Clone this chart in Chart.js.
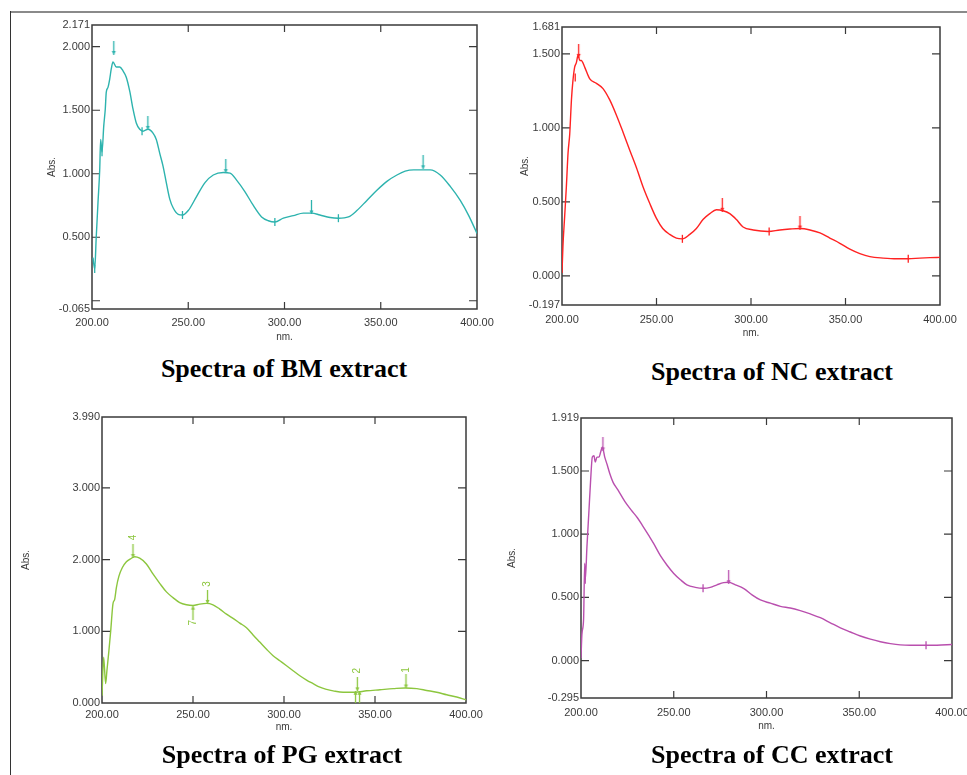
<!DOCTYPE html>
<html>
<head>
<meta charset="utf-8">
<script src="https://cdn.jsdelivr.net/npm/chart.js@4.4.1/dist/chart.umd.min.js"></script>
<style>
  html, body { margin: 0; padding: 0; background: #fff; overflow: hidden; }
  body { width: 967px; height: 775px; position: relative; }
  canvas { position: absolute; }
  .rule-top { position: absolute; left: 10px; top: 11px; width: 957px; height: 0; border-top: 2px solid #8a8a8a; }
  .rule-left { position: absolute; left: 10px; top: 11px; width: 0; height: 764px; border-left: 1px solid #333; }
  .caption {
    position: absolute; white-space: nowrap; color: #000;
    font-family: "Liberation Serif", "Times New Roman", serif; font-weight: bold;
    font-size: 26px; line-height: 26px; transform: translate(-50%, -50%);
  }
</style>
</head>
<body>
<div class="rule-top"></div>
<div class="rule-left"></div>
<canvas id="bm"></canvas>
<canvas id="nc"></canvas>
<canvas id="pg"></canvas>
<canvas id="cc"></canvas>
<div class="caption" style="left:284px; top:369px">Spectra of BM extract</div>
<div class="caption" style="left:772px; top:372px">Spectra of NC extract</div>
<div class="caption" style="left:282px; top:755px">Spectra of PG extract</div>
<div class="caption" style="left:772px; top:755px">Spectra of CC extract</div>
<script>
// UV spectra (wavelength nm / absorbance)

const xTicks = [200, 250, 300, 350, 400];
const xLabels = ['200.00', '250.00', '300.00', '350.00', '400.00'];

// BM extract
const bmWave = [200.5, 201.4, 202.2, 203.1, 204.0, 204.5, 205.2, 206.1, 206.9, 207.4, 208.3, 209.2, 210.0, 210.9, 212.6, 214.4, 216.1, 217.8, 219.6, 221.3, 223.0, 224.8, 226.5, 229.1, 231.7, 233.4, 235.2, 236.9, 238.6, 240.4, 242.2, 244.8, 247.0, 250.0, 254.3, 258.7, 263.0, 268.2, 271.7, 275.1, 279.4, 283.8, 288.1, 291.6, 295.0, 299.4, 304.6, 309.8, 314.1, 318.4, 323.7, 328.0, 333.2, 337.6, 342.8, 348.0, 353.2, 358.4, 362.7, 367.1, 371.4, 375.7, 380.9, 386.1, 391.3, 395.7, 400.0];
const bmAbs = [0.34, 0.25, 0.50, 0.77, 1.03, 1.27, 1.17, 1.375, 1.51, 1.64, 1.68, 1.745, 1.825, 1.88, 1.84, 1.84, 1.81, 1.76, 1.65, 1.51, 1.40, 1.35, 1.335, 1.35, 1.32, 1.27, 1.16, 1.06, 0.93, 0.80, 0.73, 0.68, 0.675, 0.71, 0.82, 0.93, 0.99, 1.01, 1.005, 0.95, 0.86, 0.75, 0.66, 0.63, 0.62, 0.65, 0.67, 0.69, 0.69, 0.675, 0.655, 0.65, 0.66, 0.71, 0.79, 0.87, 0.94, 0.99, 1.02, 1.03, 1.03, 1.03, 0.99, 0.90, 0.79, 0.67, 0.53];
const bmPeakX = [211.3, 229.0, 269.5, 314.0, 372.0];
const bmPeakY = [1.99, 1.40, 1.06, 0.735, 1.09];
const bmDipX = [201.4, 205.2, 226.0, 247.0, 295.0, 328.0];
const bmDipY = [0.25, 1.17, 1.335, 0.675, 0.62, 0.65];
const bmTicks = [-0.065, 0, 0.5, 1, 1.5, 2, 2.171];
const bmTickLabels = ['-0.065', '', '0.500', '1.000', '1.500', '2.000', '2.171'];

// NC extract
const ncWave = [200.0, 200.5, 201.4, 202.3, 203.2, 204.1, 205.0, 205.8, 206.7, 207.6, 208.5, 209.4, 210.2, 212.0, 214.7, 218.2, 221.7, 225.2, 228.8, 232.3, 235.8, 239.4, 242.9, 246.4, 249.9, 253.3, 257.0, 260.5, 263.7, 267.6, 271.1, 274.6, 278.2, 281.7, 285.2, 288.8, 292.3, 295.8, 301.2, 309.1, 315.3, 320.6, 325.9, 331.2, 336.5, 341.7, 347.0, 352.3, 357.6, 362.9, 369.9, 377.0, 383.2, 389.4, 394.7, 400.0];
const ncAbs = [0.02, 0.20, 0.40, 0.60, 0.83, 0.96, 1.19, 1.32, 1.41, 1.44, 1.49, 1.455, 1.455, 1.41, 1.33, 1.30, 1.265, 1.19, 1.085, 0.97, 0.85, 0.73, 0.60, 0.49, 0.39, 0.32, 0.28, 0.255, 0.25, 0.28, 0.32, 0.38, 0.42, 0.446, 0.44, 0.42, 0.38, 0.33, 0.31, 0.30, 0.31, 0.316, 0.32, 0.31, 0.29, 0.255, 0.22, 0.18, 0.15, 0.13, 0.12, 0.115, 0.115, 0.12, 0.123, 0.125];
const ncPeakX = [208.8, 284.8, 325.9];
const ncPeakY = [1.52, 0.48, 0.36];
const ncDipX = [207.0, 263.7, 309.6, 383.2];
const ncDipY = [1.34, 0.25, 0.30, 0.115];
const ncTicks = [-0.197, 0, 0.5, 1, 1.5, 1.681];
const ncTickLabels = ['-0.197', '0.000', '0.500', '1.000', '1.500', '1.681'];

// PG extract
const pgWave = [200.0, 200.9, 202.0, 202.7, 203.8, 204.8, 206.0, 207.0, 207.9, 209.3, 211.2, 213.4, 215.6, 218.0, 220.7, 224.4, 228.0, 231.7, 235.4, 239.0, 242.7, 246.4, 250.0, 253.7, 257.4, 261.0, 264.7, 268.4, 272.0, 275.7, 279.4, 283.0, 286.7, 290.4, 294.0, 297.7, 301.4, 305.0, 308.7, 312.4, 316.0, 319.7, 323.4, 327.0, 332.5, 339.0, 345.4, 352.7, 360.0, 366.5, 373.0, 378.4, 383.9, 389.4, 394.9, 400.0];
const pgAbs = [0.10, 0.64, 0.27, 0.45, 0.73, 1.01, 1.38, 1.45, 1.61, 1.77, 1.89, 1.97, 2.01, 2.04, 2.02, 1.94, 1.80, 1.67, 1.55, 1.47, 1.40, 1.37, 1.36, 1.38, 1.39, 1.37, 1.31, 1.24, 1.18, 1.115, 1.05, 0.95, 0.85, 0.75, 0.66, 0.59, 0.52, 0.45, 0.38, 0.32, 0.27, 0.22, 0.19, 0.17, 0.15, 0.15, 0.17, 0.185, 0.20, 0.21, 0.20, 0.175, 0.15, 0.115, 0.083, 0.046];
const pgPeakX = [217.0, 258.0, 340.3, 367.0];
const pgPeakY = [2.12, 1.48, 0.26, 0.30];
const pgUpX = [250.0, 339.3, 341.5];
const pgUpY = [1.26, 0.074, 0.074];
const pgTagX = [217.0, 258.0, 250.0, 340.3, 367.0];
const pgTagY = [2.31, 1.66, 1.12, 0.45, 0.46];
const pgTagText = ['4', '3', '7', '2', '1'];
const pgTicks = [0, 1, 2, 3, 3.99];
const pgTickLabels = ['0.000', '1.000', '2.000', '3.000', '3.990'];

// CC extract
const ccWave = [200.0, 200.5, 201.4, 202.0, 202.3, 203.2, 204.3, 205.2, 206.1, 207.0, 207.7, 208.6, 209.7, 210.6, 211.5, 212.8, 214.2, 215.5, 217.3, 219.9, 223.6, 227.1, 230.4, 233.5, 236.5, 239.2, 242.8, 246.4, 250.0, 253.6, 257.1, 261.6, 266.1, 269.7, 273.3, 276.9, 279.6, 283.2, 287.8, 292.2, 296.7, 302.1, 307.5, 312.8, 318.2, 323.6, 329.0, 334.4, 339.8, 345.2, 350.6, 356.0, 361.4, 366.8, 372.1, 377.5, 384.7, 391.9, 400.0];
const ccAbs = [0.02, 0.21, 0.33, 0.77, 0.64, 0.90, 1.19, 1.43, 1.61, 1.62, 1.57, 1.61, 1.61, 1.65, 1.69, 1.61, 1.545, 1.48, 1.41, 1.35, 1.26, 1.19, 1.13, 1.06, 0.99, 0.925, 0.83, 0.755, 0.69, 0.64, 0.60, 0.58, 0.573, 0.58, 0.60, 0.617, 0.62, 0.60, 0.57, 0.52, 0.48, 0.455, 0.43, 0.417, 0.396, 0.37, 0.34, 0.30, 0.26, 0.227, 0.195, 0.17, 0.15, 0.135, 0.125, 0.122, 0.122, 0.122, 0.128];
const ccPeakX = [211.8, 279.6];
const ccPeakY = [1.71, 0.66];
const ccDipX = [202.3, 265.8, 386.0];
const ccDipY = [0.64, 0.573, 0.122];
const ccTicks = [-0.295, 0, 0.5, 1, 1.5, 1.919];
const ccTickLabels = ['-0.295', '0.000', '0.500', '1.000', '1.500', '1.919'];

Chart.defaults.font.family = '"Liberation Sans", Arial, sans-serif';
Chart.defaults.color = '#3a3a3a';

const toPoints = (xs, ys) => xs.map((x, i) => ({ x, y: ys[i] }));

// small arrow used by the spectrometer to flag peaks
function makeArrow(color, up) {
  const c = document.createElement('canvas');
  c.width = 7; c.height = 14;
  const g = c.getContext('2d');
  g.strokeStyle = color; g.fillStyle = color; g.lineWidth = 1.3;
  g.beginPath(); g.moveTo(3.5, 0); g.lineTo(3.5, 14); g.stroke();
  g.beginPath();
  if (up) { g.moveTo(1.5, 4); g.lineTo(5.5, 4); g.lineTo(3.5, 0); }
  else { g.moveTo(1.5, 10); g.lineTo(5.5, 10); g.lineTo(3.5, 14); }
  g.fill();
  return c;
}

// plot frame + inward tick marks on all four sides
const framePlugin = {
  id: 'frame',
  beforeDatasetsDraw(chart) {
    const { ctx, chartArea: a, scales: { x, y } } = chart;
    ctx.save();
    ctx.strokeStyle = '#3a3a3a';
    ctx.lineWidth = 1.5;
    ctx.strokeRect(a.left, a.top, a.right - a.left, a.bottom - a.top);
    ctx.lineWidth = 1.2;
    ctx.beginPath();
    x.ticks.slice(1, -1).forEach(t => {
      const px = x.getPixelForValue(t.value);
      ctx.moveTo(px, a.top); ctx.lineTo(px, a.top + 7);
      ctx.moveTo(px, a.bottom); ctx.lineTo(px, a.bottom - 7);
    });
    y.ticks.slice(1, -1).forEach(t => {
      const py = y.getPixelForValue(t.value);
      ctx.moveTo(a.left, py); ctx.lineTo(a.left + 8, py);
      ctx.moveTo(a.right, py); ctx.lineTo(a.right - 8, py);
    });
    ctx.stroke();
    ctx.restore();
  }
};

// rotated peak numbers (PG scan only)
function tagPlugin(tx, ty, text, color) {
  return {
    id: 'tags',
    afterDatasetsDraw(chart) {
      const { ctx, scales: { x, y } } = chart;
      ctx.save();
      ctx.fillStyle = color;
      ctx.font = '10px "Liberation Sans", Arial, sans-serif';
      ctx.textAlign = 'center';
      ctx.textBaseline = 'middle';
      text.forEach((t, i) => {
        ctx.save();
        ctx.translate(x.getPixelForValue(tx[i]), y.getPixelForValue(ty[i]));
        ctx.rotate(-Math.PI / 2);
        ctx.fillText(t, 0, 0);
        ctx.restore();
      });
      ctx.restore();
    }
  };
}

function makeChart(id, o) {
  const cv = document.getElementById(id);
  const [l, t, r, b] = o.area;
  const left = l - o.yWidth, top = t - 10;
  cv.width = r - left + 25;
  cv.height = b + 40 - top;
  cv.style.left = left + 'px';
  cv.style.top = top + 'px';

  const datasets = [{
    data: toPoints(o.wave, o.abs),
    showLine: true,
    borderColor: o.color,
    borderWidth: 1.4,
    pointRadius: 0,
    cubicInterpolationMode: 'monotone'
  }];
  if (o.peakX) datasets.push({
    data: toPoints(o.peakX, o.peakY),
    pointStyle: makeArrow(o.color, false),
    pointRadius: 5
  });
  if (o.upX) datasets.push({
    data: toPoints(o.upX, o.upY),
    pointStyle: makeArrow(o.color, true),
    pointRadius: 5
  });
  if (o.dipX) datasets.push({
    data: toPoints(o.dipX, o.dipY),
    pointStyle: 'line',
    rotation: 90,
    pointRadius: 4,
    borderColor: o.color,
    borderWidth: 1.3
  });

  return new Chart(cv, {
    type: 'scatter',
    data: { datasets },
    options: {
      responsive: false,
      animation: false,
      layout: { padding: { left: 0, top: 10, right: 25, bottom: 0 } },
      plugins: { legend: { display: false }, tooltip: { enabled: false } },
      scales: {
        x: {
          type: 'linear', min: 200, max: 400,
          afterBuildTicks: s => { s.ticks = xTicks.map(v => ({ value: v })); },
          afterFit: s => { s.height = 40; },
          ticks: { callback: (v, i) => xLabels[i], autoSkip: false, maxRotation: 0, padding: o.xPad, font: { size: 11 } },
          grid: { display: false, drawTicks: false },
          border: { display: false },
          title: { display: true, text: 'nm.', font: { size: 10 }, padding: { top: 0, bottom: o.nmPad } }
        },
        y: {
          type: 'linear', min: o.yTicks[0], max: o.yTicks[o.yTicks.length - 1],
          afterBuildTicks: s => { s.ticks = o.yTicks.map(v => ({ value: v })); },
          afterFit: s => { s.width = o.yWidth; },
          ticks: { callback: (v, i) => o.yLabels[i], autoSkip: false, padding: 2, font: { size: 11 } },
          grid: { display: false, drawTicks: false },
          border: { display: false },
          title: { display: true, text: 'Abs.', font: { size: 10 }, padding: { top: 4, bottom: 0 } }
        }
      }
    },
    plugins: o.plugins ? [framePlugin, ...o.plugins] : [framePlugin]
  });
}

makeChart('bm', {
  area: [92, 25, 477, 309], yWidth: 50, xPad: 7, nmPad: 6, color: '#2db3ae',
  wave: bmWave, abs: bmAbs, peakX: bmPeakX, peakY: bmPeakY, dipX: bmDipX, dipY: bmDipY,
  yTicks: bmTicks, yLabels: bmTickLabels
});

makeChart('nc', {
  area: [562, 27, 940, 305], yWidth: 47, xPad: 8, nmPad: 6, color: '#ff2222',
  wave: ncWave, abs: ncAbs, peakX: ncPeakX, peakY: ncPeakY, dipX: ncDipX, dipY: ncDipY,
  yTicks: ncTicks, yLabels: ncTickLabels
});

makeChart('pg', {
  area: [102, 417, 466, 703], yWidth: 86, xPad: 5, nmPad: 10, color: '#8cc63e',
  wave: pgWave, abs: pgAbs, peakX: pgPeakX, peakY: pgPeakY, upX: pgUpX, upY: pgUpY,
  yTicks: pgTicks, yLabels: pgTickLabels,
  plugins: [tagPlugin(pgTagX, pgTagY, pgTagText, '#8cc63e')]
});

makeChart('cc', {
  area: [581, 418, 952, 698], yWidth: 79, xPad: 8, nmPad: 6, color: '#b94fae',
  wave: ccWave, abs: ccAbs, peakX: ccPeakX, peakY: ccPeakY, dipX: ccDipX, dipY: ccDipY,
  yTicks: ccTicks, yLabels: ccTickLabels
});
</script>
</body>
</html>
